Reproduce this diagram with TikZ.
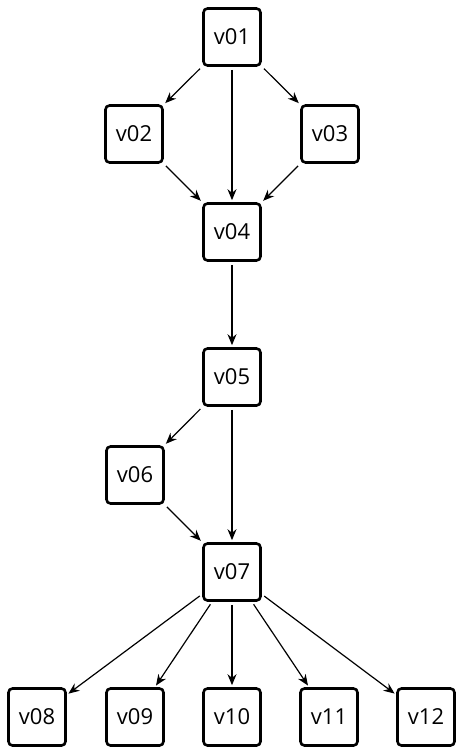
\documentclass[tikz,border=0pt]{standalone}
\usepackage{fontspec}
\setmainfont{Open Sans}
\usetikzlibrary{arrows.meta}
\tikzset{
  vbox/.style={draw, line width=2.6pt, rounded corners=4pt, minimum width=57pt, minimum height=57pt, inner sep=0pt, font=\fontsize{22}{26}\selectfont},
  edge/.style={line width=1.2pt, -{Stealth[length=11pt,width=9pt]}, shorten <=3pt, shorten >=2pt}
}
\begin{document}
\begin{tikzpicture}[x=1pt,y=-1pt]
        \useasboundingbox (0,0) rectangle (464,755);
        \node[vbox] (v01) at (232,37) {v01};
        \node[vbox] (v02) at (134,134) {v02};
        \node[vbox] (v03) at (330,134) {v03};
        \node[vbox] (v04) at (232,232) {v04};
        \node[vbox] (v05) at (232,377) {v05};
        \node[vbox] (v06) at (135,475) {v06};
        \node[vbox] (v07) at (232,572) {v07};
        \foreach \n/\x in {08/37,09/135,10/232,11/329,12/426}
          \node[vbox] (v\n) at (\x,717) {v\n};
        \draw[edge] (v01) -- (v02);
        \draw[edge] (v01) -- (v03);
        \draw[edge] (v01) -- (v04);
        \draw[edge] (v02) -- (v04);
        \draw[edge] (v03) -- (v04);
        \draw[edge] (v04) -- (v05);
        \draw[edge] (v05) -- (v06);
        \draw[edge] (v05) -- (v07);
        \draw[edge] (v06) -- (v07);
        \foreach \n in {08,09,10,11,12} \draw[edge] (v07) -- (v\n);
      \end{tikzpicture}
\end{document}
